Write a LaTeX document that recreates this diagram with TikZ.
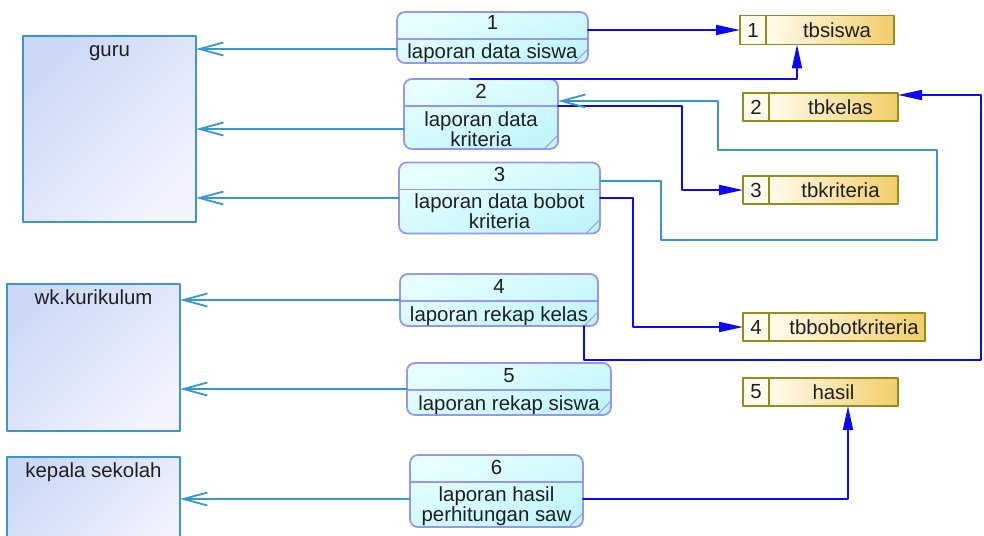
\documentclass[tikz,border=0pt]{standalone}
\usepackage{fontspec}
\setmainfont{Liberation Sans}
\usetikzlibrary{arrows.meta,positioning}
\definecolor{entedge}{RGB}{60,150,205}
\definecolor{enttop}{RGB}{204,217,246}
\definecolor{entbot}{RGB}{242,243,254}
\definecolor{procedge}{RGB}{150,150,250}
\definecolor{proctop}{RGB}{232,255,255}
\definecolor{procbot}{RGB}{192,245,251}
\definecolor{storeedge}{RGB}{150,140,30}
\definecolor{storegold}{RGB}{242,206,106}
\definecolor{storecream}{RGB}{255,251,236}
\definecolor{flowcyan}{RGB}{55,152,205}
\definecolor{flowblue}{RGB}{10,10,245}

\begin{document}
\begin{tikzpicture}[x=0.5pt,y=-0.5pt,font=\fontsize{10.2}{10}\selectfont,text=black!88,line cap=round,line join=round,
  entity/.style={draw=entedge,line width=0.9pt,top color=enttop,bottom color=entbot,shading angle=45,minimum width=86.5pt,inner sep=0pt,outer sep=0pt},
  entlabel/.style={anchor=north,inner sep=2.4pt,text height=7.5pt,text depth=2pt},
  proc/.style={draw=procedge,line width=0.9pt,rounded corners=4pt,top color=proctop,bottom color=procbot,shading angle=20,inner sep=0pt,outer sep=0pt,
    path picture={
      \draw[procedge,line width=0.9pt] ([yshift=-13.5pt]path picture bounding box.north west) -- ([yshift=-13.5pt]path picture bounding box.north east);
      \draw[procedge,line width=0.5pt] ([xshift=-7pt]path picture bounding box.south east) -- ([yshift=7pt]path picture bounding box.south east);}},
  procnum/.style={anchor=base,inner sep=0pt},
  proctext/.style={anchor=north,align=center,inner sep=0pt},
  storenum/.style={draw=storeedge,line width=0.9pt,fill=storecream,minimum width=13pt,inner sep=0pt,outer sep=0pt},
  storebox/.style={draw=storeedge,line width=0.9pt,left color=storecream,right color=storegold,inner sep=0pt,outer sep=0pt},
  outflow/.style={flowcyan,line width=0.9pt,-{Straight Barb[length=12pt,width=6.5pt]}},
  dataflow/.style={flowblue,line width=0.9pt,-{Triangle[length=12pt,width=5pt]}}]
\useasboundingbox (0,0) rectangle (984,535);

% external entities
\node[entity,minimum height=93pt,label={[entlabel,name=gurul]north:guru}] (guru) at (109.5,129) {};
\node[entity,minimum height=73.5pt,label={[entlabel,name=wkl]north:wk.kurikulum}] (wk) at (93.5,357.5) {};
\node[entity,minimum height=51.5pt,label={[entlabel,name=kepl]north:kepala sekolah}] (kep) at (93.5,508.5) {};

% processes
\node[proc,minimum width=95.5pt,minimum height=25.5pt] (p1) at (492.5,37.5) {};
\node[procnum] (p1n) at (492.5,30) {1};
\node[proctext] (p1t) at (492.5,43) {laporan data siswa};
\node[proc,minimum width=77pt,minimum height=35pt] (p2) at (481,114) {};
\node[procnum] (p2n) at (481,98) {2};
\node[proctext] (p2t) at (481,111) {laporan data\\kriteria};
\node[proc,minimum width=100.5pt,minimum height=35.5pt] (p3) at (499.5,198) {};
\node[procnum] (p3n) at (499.5,181) {3};
\node[proctext] (p3t) at (499.5,193) {laporan data bobot\\kriteria};
\node[proc,minimum width=99pt,minimum height=26pt] (p4) at (499,300) {};
\node[procnum] (p4n) at (499,293) {4};
\node[proctext] (p4t) at (499,306) {laporan rekap kelas};
\node[proc,minimum width=102pt,minimum height=26pt] (p5) at (509,389) {};
\node[procnum] (p5n) at (509,382) {5};
\node[proctext] (p5t) at (509,395) {laporan rekap siswa};
\node[proc,minimum width=86.5pt,minimum height=36pt] (p6) at (496.5,491) {};
\node[procnum] (p6n) at (496.5,474) {6};
\node[proctext] (p6t) at (496.5,486) {laporan hasil\\perhitungan saw};

% data stores
\node[storebox,minimum width=64pt,minimum height=14.5pt] (s1) at (830,30) {\hspace*{7pt}tbsiswa};
\node[storenum,minimum height=14.5pt,left=0pt of s1] (s1n) {1};
\node[storebox,minimum width=64.5pt,minimum height=14pt] (s2) at (833.5,107) {\hspace*{7pt}tbkelas};
\node[storenum,minimum height=14pt,left=0pt of s2] (s2n) {2};
\node[storebox,minimum width=64.5pt,minimum height=14pt] (s3) at (833.5,190) {\hspace*{7pt}tbkriteria};
\node[storenum,minimum height=14pt,left=0pt of s3] (s3n) {3};
\node[storebox,minimum width=78pt,minimum height=14pt] (s4) at (847,327) {\hspace*{7pt}tbbobotkriteria};
\node[storenum,minimum height=14pt,left=0pt of s4] (s4n) {4};
\node[storebox,minimum width=64.5pt,minimum height=14pt] (s5) at (833.5,392) {hasil};
\node[storenum,minimum height=14pt,left=0pt of s5] (s5n) {5};

% reports to the entities
\coordinate (g1) at ([yshift=-5.75pt]p1.west);
\coordinate (g2) at ([yshift=-7.5pt]p2.west);
\coordinate (g6) at ([yshift=-4pt]p6.west);
\draw[outflow] (g1) -- (g1 -| guru.east);
\draw[outflow] (g2) -- (g2 -| guru.east);
\draw[outflow] (p3.west) -- (p3.west -| guru.east);
\draw[outflow] (p4.west) -- (p4.west -| wk.east);
\draw[outflow] (p5.west) -- (p5.west -| wk.east);
\draw[outflow] (g6) -- (g6 -| kep.east);

% store access
\draw[dataflow] (p1.east |- s1n.west) -- (s1n.west);
\draw[dataflow] ([xshift=-5.5pt]p2.north) -| ([xshift=-16.5pt]s1.south);
\draw[dataflow] ([yshift=4pt]p2.east) -- ++(124,0) |- (s3n.west);
\draw[outflow] ([yshift=8.5pt]p3.east) -- ++(61,0) -- ++(0,59) -- ++(276,0) -- ++(0,-90) -- ++(-219,0) |- ([yshift=6.5pt]p2.east);
\draw[dataflow] (p3.east) -- ++(33,0) |- (s4n.west);
\draw[dataflow] ([xshift=-7pt]p4.south east) -- ++(0,34) -- ++(397,0) |- ([yshift=6pt]s2.east);
\draw[dataflow] ([yshift=-4pt]p6.east) -| ([xshift=7.25pt]s5.south);
\end{tikzpicture}
\end{document}
